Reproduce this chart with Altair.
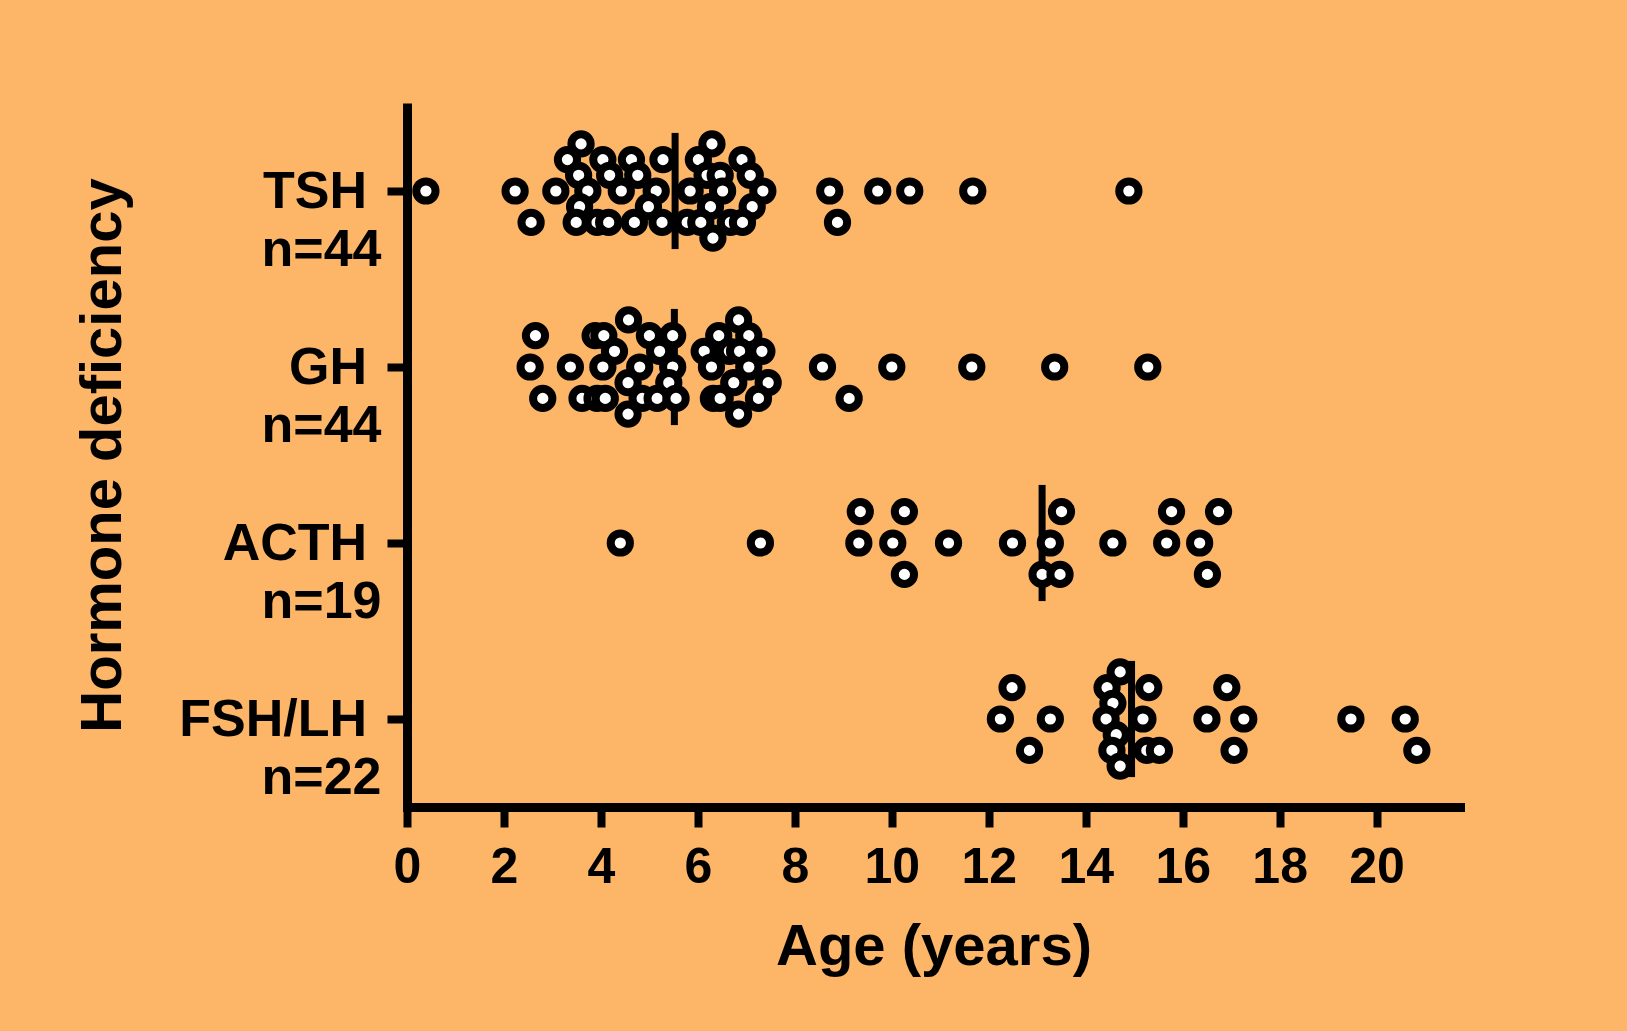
import altair as alt
import pandas as pd

# ---------------- data ----------------
groups = ["TSH", "GH", "ACTH", "FSH/LH"]

# age in years, and the swarm lane of each point (0 = on the category line)
tsh_age = [3.59, 6.29,
           3.31, 4.04, 4.63, 5.28, 6.01, 6.91,
           3.54, 4.18, 4.76, 6.19, 6.46, 7.08,
           0.39, 2.23, 3.07, 3.73, 4.42, 5.14, 5.84, 6.51, 7.34, 8.72, 9.71, 10.37, 11.67, 14.89,
           3.56, 4.98, 6.26, 7.12,
           2.56, 3.49, 3.92, 4.16, 4.69, 5.26, 5.78, 6.06, 6.67, 6.92, 8.88,
           6.31]
tsh_lane = [-3, -3,
            -2, -2, -2, -2, -2, -2,
            -1, -1, -1, -1, -1, -1,
            0, 0, 0, 0, 0, 0, 0, 0, 0, 0, 0, 0, 0, 0,
            1, 1, 1, 1,
            2, 2, 2, 2, 2, 2, 2, 2, 2, 2, 2,
            3]

gh_age = [4.57, 6.84,
          2.65, 3.88, 4.06, 5.00, 5.48, 6.43, 7.05,
          4.28, 5.21, 6.13, 6.65, 6.86, 7.32,
          2.54, 3.37, 4.04, 4.80, 5.48, 6.28, 7.05, 8.57, 10.00, 11.65, 13.36, 15.28,
          4.56, 5.40, 6.74, 7.45,
          2.80, 3.61, 3.92, 4.09, 4.85, 5.16, 5.55, 6.32, 6.46, 7.25, 9.12,
          4.56, 6.84]
gh_lane = [-3, -3,
           -2, -2, -2, -2, -2, -2, -2,
           -1, -1, -1, -1, -1, -1,
           0, 0, 0, 0, 0, 0, 0, 0, 0, 0, 0, 0,
           1, 1, 1, 1,
           2, 2, 2, 2, 2, 2, 2, 2, 2, 2, 2,
           3, 3]

acth_age = [9.35, 10.26, 13.50, 15.77, 16.74,
            4.40, 7.29, 9.32, 10.02, 11.17, 12.49, 13.27, 14.56, 15.67, 16.35,
            10.26, 13.10, 13.47, 16.51]
acth_lane = [-2, -2, -2, -2, -2,
             0, 0, 0, 0, 0, 0, 0, 0, 0, 0,
             2, 2, 2, 2]

fsh_age = [14.71,
           12.48, 14.44, 15.30, 16.91,
           14.56,
           12.24, 13.27, 14.42, 15.18, 16.50, 17.26, 19.47, 20.59,
           14.63,
           12.84, 14.54, 15.26, 15.52, 17.06, 20.83,
           14.71]
fsh_lane = [-3,
            -2, -2, -2, -2,
            -1,
            0, 0, 0, 0, 0, 0, 0, 0,
            1,
            2, 2, 2, 2, 2, 2,
            3]

x_ticks = [0, 2, 4, 6, 8, 10, 12, 14, 16, 18, 20]

all_ages = [tsh_age, gh_age, acth_age, fsh_age]
all_lanes = [tsh_lane, gh_lane, acth_lane, fsh_lane]

rows = []
for gi, (g, ages, lanes) in enumerate(zip(groups, all_ages, all_lanes)):
    idx = len(groups) - 1 - gi
    for a, l in zip(ages, lanes):
        rows.append({"group": g, "idx": idx, "age": a, "lane": l})
df = pd.DataFrame(rows)

# ---------------- styling ----------------
FONT = "Liberation Sans"
BG = "#FDB567"
TRAIL = "\u00a0\u200b"  # a kept trailing space after the hormone name

label_parts = []
for gi, (g, ages) in enumerate(zip(groups, all_ages)):
    idx = len(groups) - 1 - gi
    label_parts.append(f"datum.value === {idx} ? ['{g}{TRAIL}', 'n={len(ages)}']")
label_expr = " : ".join(label_parts) + " : ''"

x_scale = alt.Scale(domain=[0, 21.72], nice=False, zero=False)
y_scale = alt.Scale(domain=[-0.5, 3.5], nice=False, zero=False)

x_axis = alt.Axis(
    title="Age (years)", values=x_ticks, grid=False,
    domainColor="black", domainWidth=9, domainCap="square",
    tickColor="black", tickWidth=8, tickSize=20,
    labelFont=FONT, labelFontSize=50, labelFontWeight="bold", labelColor="black",
    labelPadding=15, labelFlush=False, labelOverlap=False,
    titleFont=FONT, titleFontSize=58, titleFontWeight="bold", titleColor="black",
    titlePadding=26,
)
y_axis = alt.Axis(
    title="Hormone deficiency", values=[0, 1, 2, 3], grid=False,
    labelExpr=label_expr,
    domainColor="black", domainWidth=9,
    tickColor="black", tickWidth=8, tickSize=20,
    labelFont=FONT, labelFontSize=52, labelFontWeight="bold", labelColor="black",
    labelLineHeight=58, labelBaseline="middle", labelAlign="right",
    labelPadding=6, labelOverlap=False, labelFlush=False, labelLimit=0,
    titleFont=FONT, titleFontSize=58, titleFontWeight="bold", titleColor="black",
    titlePadding=75,
)

base = alt.Chart(df)

medians = base.transform_aggregate(
    med="median(age)", groupby=["idx"]
).transform_calculate(
    ytop="datum.idx + 0.33", ybot="datum.idx - 0.33"
).mark_rule(color="black", strokeWidth=7).encode(
    x=alt.X("med:Q", scale=x_scale, axis=x_axis),
    y=alt.Y("ytop:Q", scale=y_scale, axis=y_axis),
    y2="ybot:Q",
)

points = base.transform_calculate(
    ypos="datum.idx - datum.lane * 0.0892"
).mark_circle(
    fill="white", stroke="black", strokeWidth=8, size=370, opacity=1
).encode(
    x=alt.X("age:Q", scale=x_scale, axis=x_axis),
    y=alt.Y("ypos:Q", scale=y_scale, axis=y_axis),
)

chart = alt.layer(medians, points).properties(
    width=1053, height=704,
    autosize=alt.AutoSizeParams(type="none"),
    padding={"left": 407, "top": 103, "right": 167, "bottom": 224},
    background=BG,
).configure_view(stroke=None)

chart.save("out.html", embed_options={"renderer": "svg", "actions": False})
